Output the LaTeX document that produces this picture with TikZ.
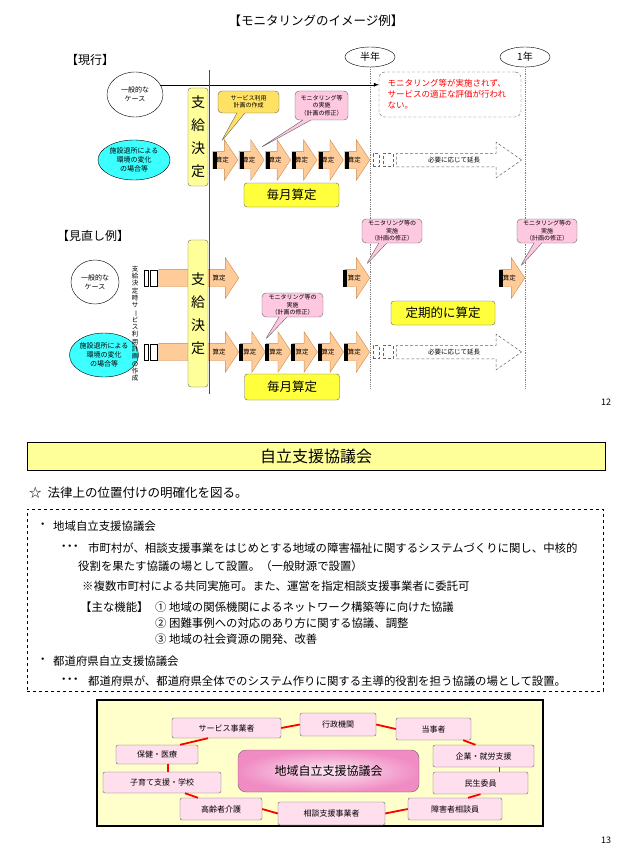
\documentclass[tikz,border=0pt]{standalone}
\usepackage{fontspec}
\setmainfont{Noto Sans CJK JP}
\usetikzlibrary{shapes.geometric,shapes.arrows,shapes.callouts,arrows.meta}
\definecolor{peach}{RGB}{255,204,153}
\definecolor{arrowline}{RGB}{200,140,80}
\definecolor{lyellow}{RGB}{255,255,153}
\definecolor{myellow}{RGB}{255,255,60}
\definecolor{cyanfill}{RGB}{60,255,255}
\definecolor{pinkbub}{RGB}{255,200,225}
\definecolor{yelbub}{RGB}{255,225,100}
\definecolor{netbg}{RGB}{255,255,204}
\definecolor{netpink}{RGB}{255,222,238}
\definecolor{centpink}{RGB}{240,140,195}
\definecolor{linegray}{RGB}{100,100,100}
\newcommand{\threedots}{・\kern-5.5pt・\kern-5.5pt・}
\begin{document}
\begin{tikzpicture}[x=1pt,y=-1pt,
  sanarrow/.style={single arrow, draw=arrowline, fill=peach, line width=0.4pt,
    single arrow head extend=11.5pt, single arrow tip angle=113,
    minimum height=25pt, inner xsep=0pt, inner ysep=5.5pt,
    text height=5pt, text depth=1pt, font=\fontsize{6.5}{7}\selectfont, anchor=tip},
  bandarrow/.style={sanarrow, minimum height=80pt},
  blackbar/.style={fill=black, inner sep=0pt, minimum width=4pt, minimum height=17pt, anchor=west},
  dasharrow/.style={single arrow, draw=linegray, densely dashed, line width=0.5pt,
    single arrow head extend=11pt, single arrow tip angle=70,
    minimum height=125pt, inner xsep=2pt, inner ysep=3.5pt, text height=5pt, text depth=1pt,
    font=\fontsize{6.5}{7}\selectfont, anchor=tip},
  dashrect/.style={draw=linegray, densely dashed, line width=0.5pt, inner sep=0pt, minimum height=13pt},
  smallrect/.style={draw=black, fill=white, inner sep=0pt, minimum height=16pt},
  decision/.style={draw=linegray, fill=lyellow, rounded corners=3pt, inner sep=0pt, minimum width=20pt, align=center, font=\fontsize{14}{23}\selectfont},
  monthly/.style={draw=linegray, fill=myellow, rounded corners=3pt, inner sep=0pt, font=\fontsize{12.5}{14}\selectfont},
  caseell/.style={ellipse, draw=black, fill=white, inner sep=0pt, align=center, font=\fontsize{7}{9}\selectfont},
  cyanell/.style={ellipse, draw=black, fill=cyanfill, inner sep=0pt, align=center, font=\fontsize{7}{9}\selectfont},
  bubble/.style={rectangle callout, draw=linegray, rounded corners=4pt, inner sep=0pt, align=center, callout pointer width=8pt, font=\fontsize{6}{7.5}\selectfont},
  yearell/.style={ellipse, draw=black, fill=white, inner sep=0pt, minimum width=50pt, minimum height=20pt, font=\fontsize{10}{12}\selectfont},
  timeline/.style={densely dotted, draw=gray, line width=0.8pt},
  netnode/.style={draw=linegray, fill=netpink, rounded corners=2pt, inner sep=0pt, font=\fontsize{8}{9}\selectfont},
  netlink/.style={draw=red, line width=1.8pt},
  bodytext/.style={anchor=west, inner sep=0pt, font=\fontsize{11.4}{13}\selectfont},
  labeltext/.style={anchor=west, inner sep=0pt, font=\fontsize{12}{14}\selectfont},
]
\useasboundingbox (0,0) rectangle (628,856);
\fill[white] (0,0) rectangle (628,856);

% ---------------- page 12 ----------------
\node[inner sep=0pt, font=\fontsize{12.5}{14}\selectfont] (title) at (316,21) {【モニタリングのイメージ例】};
\node[labeltext] (lab1) at (66,60) {【現行】};
\node[labeltext] (lab2) at (57,236) {【見直し例】};

% time markers
\node[yearell] (half) at (370,57) {半年};
\node[yearell] (year) at (525,57) {1年};
\coordinate (halfend) at (370,389);
\coordinate (yearend) at (525,389);
\draw[timeline] (half.south) -- (halfend);
\draw[timeline] (year.south) -- (yearend);

% current: general case
\node[caseell, minimum width=56pt, minimum height=45pt] (e1) at (135,94.5) {一般的な\\ケース};
\node[draw=linegray, densely dashed, rounded corners=6pt, fill=white, text width=125pt, inner xsep=8.5pt, inner ysep=0pt, minimum height=45pt, align=left, text=red, font=\fontsize{8.5}{11}\selectfont] (warn) at (450,94.5) {モニタリング等が実施されず、\\サービスの適正な評価が行われ\\ない。};
\draw[-{Latex[length=5pt,width=4pt]}] (e1.21) -- (e1.21 -| warn.west);

% current: changing case
\node[cyanell, minimum width=72pt, minimum height=40pt] (c1) at (134,160) {施設退所による\\環境の変化\\の場合等};
\node[decision, minimum height=98pt] (k1) at (198,137) {支\\給\\決\\定};
\foreach \i in {0,...,5} {
  \node[sanarrow] (t\i) at ({238+26.4*\i},160) {算定};
  \node[blackbar] (tb\i) at ({213+26.4*\i},160) {};
}
\node[dashrect, minimum width=6pt] (d1) at (376,160) {};
\node[dashrect, minimum width=10pt] (d2) at (388,160) {};
\node[dasharrow] (ext1) at (522,160) {必要に応じて延長};
\node[monthly, minimum width=95pt, minimum height=24pt] (m1) at (291.5,195) {毎月算定};
\node[bubble, fill=yelbub, minimum width=61pt, minimum height=22pt, callout absolute pointer={(221,142)}] (b1) at (248.5,102) {サービス利用\\計画の作成};
\node[bubble, fill=pinkbub, minimum width=53pt, minimum height=29pt, callout absolute pointer={(260,148)}] (b2) at (321.5,105.5) {モニタリング等\\の実施\\（計画の修正）};

% revised
\node[caseell, minimum width=48pt, minimum height=44pt] (e2) at (95,282) {一般的な\\ケース};
\node[cyanell, minimum width=64pt, minimum height=44pt] (c2) at (104,355) {施設退所による\\環境の変化\\の場合等};
\node[align=center, inner sep=0pt, font=\fontsize{6.5}{7.3}\selectfont] (vt) at (135,323.5) {支\\給\\決\\定\\時\\サ\\\rotatebox[origin=c]{-90}{ー}\\ビ\\ス\\利\\用\\計\\画\\の\\作\\成};
\node[smallrect, minimum width=4pt] (s1) at (146,278) {};
\node[smallrect, minimum width=7pt] (s2) at (153.5,278) {};
\node[smallrect, minimum width=4pt] (s3) at (146,352) {};
\node[smallrect, minimum width=7pt] (s4) at (153.5,352) {};
\node[bandarrow] (u0) at (239,278) {};
\node[bandarrow] (l0) at (239,352) {};
\node[decision, minimum height=147pt] (k2) at (198,313.5) {支\\給\\決\\定};
\node[inner sep=0pt, font=\fontsize{6.5}{7}\selectfont] (u0t) at (219,278) {算定};
\node[inner sep=0pt, font=\fontsize{6.5}{7}\selectfont] (l0t) at (219,352) {算定};

\node[sanarrow] (u1) at (370,278) {算定};
\node[blackbar] (ub1) at (343,278) {};
\node[sanarrow] (u2) at (525,278) {算定};
\node[blackbar] (ub2) at (499,278) {};
\foreach \i in {1,...,5} {
  \node[sanarrow] (l\i) at ({265.5+26.1*(\i-1)},352) {算定};
  \node[blackbar] (lb\i) at ({239+26.1*(\i-1)},352) {};
}
\node[dashrect, minimum width=6pt] (d3) at (376,352) {};
\node[dashrect, minimum width=10pt] (d4) at (388,352) {};
\node[dasharrow] (ext2) at (522,352) {必要に応じて延長};

\node[bubble, fill=pinkbub, minimum width=61pt, minimum height=24pt, callout absolute pointer={(265,340)}] (b3) at (292.5,305) {モニタリング等の\\実施\\（計画の修正）};
\node[bubble, fill=pinkbub, minimum width=60pt, minimum height=24pt, callout absolute pointer={(366,265)}] (b4) at (392,231) {モニタリング等の\\実施\\（計画の修正）};
\node[bubble, fill=pinkbub, minimum width=60pt, minimum height=24pt, callout absolute pointer={(520,267)}] (b5) at (547,231) {モニタリング等の\\実施\\（計画の修正）};
\node[monthly, minimum width=104pt, minimum height=24pt] (p1) at (443,313) {定期的に算定};
\node[monthly, minimum width=95pt, minimum height=26pt] (m2) at (292,387) {毎月算定};

% red decision line
\coordinate (rtop) at (209,70);
\coordinate (rbot) at (209,394);
\draw[red, line width=0.6pt] (rtop) -- (rbot);

\node[inner sep=0pt, font=\fontsize{9}{10}\selectfont] (pg12) at (606,402) {12};

% ---------------- page 13 ----------------
\node[draw=black, line width=0.8pt, fill=lyellow, minimum width=578pt, minimum height=28pt, inner sep=0pt, font=\fontsize{16}{18}\selectfont] (hdr) at (316,456.5) {自立支援協議会};
\node[labeltext, font=\fontsize{12.5}{14}\selectfont] (star) at (29,493) {☆\hspace{6pt}法律上の位置付けの明確化を図る。};
\node[draw=black, dashed, line width=0.7pt, minimum width=576pt, minimum height=182pt, inner sep=0pt] (dbox) at (315,600) {};

\node[bodytext] (t1a) at (37,526) {・};
\node[bodytext] (t1b) at (53,526) {地域自立支援協議会};
\node[bodytext] (t2a) at (58,548) {\threedots};
\node[bodytext] (t2b) at (88,548) {市町村が、相談支援事業をはじめとする地域の障害福祉に関するシステムづくりに関し、中核的};
\node[bodytext] (t3) at (78,566) {役割を果たす協議の場として設置。（一般財源で設置）};
\node[bodytext] (t4) at (82,586) {※複数市町村による共同実施可。また、運営を指定相談支援事業者に委託可};
\node[bodytext] (t5a) at (80,607) {【主な機能】};
\node[bodytext] (t5b) at (155,607) {① 地域の関係機関によるネットワーク構築等に向けた協議};
\node[bodytext] (t6) at (155,623) {② 困難事例への対応のあり方に関する協議、調整};
\node[bodytext] (t7) at (155,639) {③ 地域の社会資源の開発、改善};
\node[bodytext] (t8a) at (37,661) {・};
\node[bodytext] (t8b) at (53,661) {都道府県自立支援協議会};
\node[bodytext] (t9a) at (58,681) {\threedots};
\node[bodytext] (t9b) at (88,681) {都道府県が、都道府県全体でのシステム作りに関する主導的役割を担う協議の場として設置。};

% network
\node[draw=black, line width=2pt, fill=netbg, minimum width=446pt, minimum height=126pt, inner sep=0pt] (netbox) at (320,763) {};
\node[netnode, minimum width=109pt, minimum height=20pt] (sv) at (226.5,728) {サービス事業者};
\node[netnode, minimum width=76pt, minimum height=23pt] (gy) at (338,724.5) {行政機関};
\node[netnode, minimum width=75pt, minimum height=22pt] (ts) at (433.5,729) {当事者};
\node[netnode, minimum width=101pt, minimum height=22pt] (kg) at (483.5,756) {企業・就労支援};
\node[netnode, minimum width=95pt, minimum height=22pt] (mn) at (480.5,783) {民生委員};
\node[netnode, minimum width=94pt, minimum height=22pt] (sh) at (455,809) {障害者相談員};
\node[netnode, minimum width=107pt, minimum height=23pt] (sd) at (331.5,813.5) {相談支援事業者};
\node[netnode, minimum width=82pt, minimum height=22pt] (kr) at (221,809) {高齢者介護};
\node[netnode, minimum width=118pt, minimum height=21pt] (ko) at (162,782.5) {子育て支援・学校};
\node[netnode, minimum width=82pt, minimum height=19pt] (hk) at (157,754.5) {保健・医療};
\node[draw=linegray, rounded corners=8pt, shading=radial, inner color=centpink!20, outer color=centpink, minimum width=181pt, minimum height=42pt, inner sep=0pt, font=\fontsize{12}{14}\selectfont] (cc) at (328.5,771) {地域自立支援協議会};

\draw[netlink] (sv.east) -- (gy.west);
\draw[netlink] (gy.east) -- (ts.west);
\draw[netlink] ([xshift=-8pt]ts.south east) -- ([xshift=-8pt]kg.north);
\draw[netlink] ([xshift=16pt]kg.south) -- ([xshift=16pt]kg.south |- mn.north);
\draw[netlink] (mn.south) -- ([xshift=13pt]sh.north);
\draw[netlink] (sh.west) -- (sd.east);
\draw[netlink] (sd.west) -- (kr.east);
\draw[netlink] ([xshift=-23pt]kr.north) -- ([xshift=23pt]ko.south);
\draw[netlink] ([xshift=6pt]ko.north) -- ([xshift=11pt]hk.south);
\draw[netlink] ([xshift=23pt]hk.north) -- ([xshift=-18.5pt]sv.south);

\node[inner sep=0pt, font=\fontsize{9}{10}\selectfont] (pg13) at (606,840) {13};
\end{tikzpicture}
\end{document}
